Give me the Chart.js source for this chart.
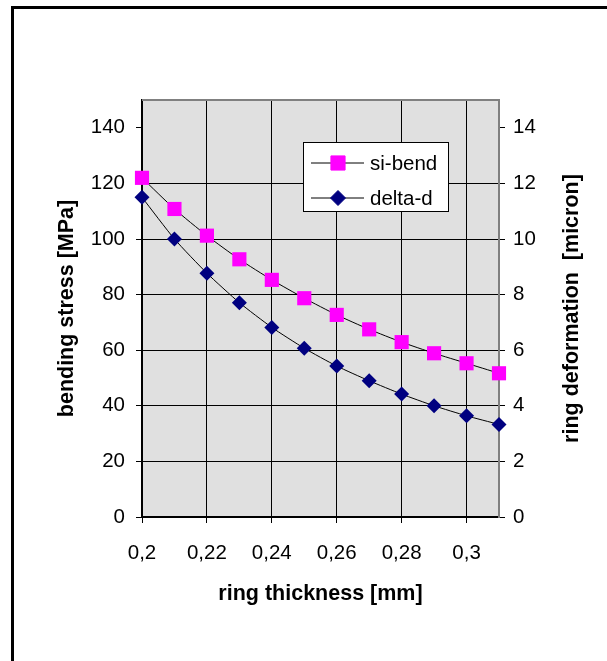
<!DOCTYPE html>
<html>
<head>
<meta charset="utf-8">
<script src="https://cdn.jsdelivr.net/npm/chart.js@4.4.0/dist/chart.umd.min.js"></script>
<style>
body { margin: 0; background: #fff; overflow: hidden; }
#frame { position: absolute; left: 11px; top: 6px; width: 700px; height: 700px; border: 3px solid #000; }
#wrap { position: absolute; left: 0; top: 0; width: 607px; height: 661px; }
</style>
</head>
<body>
<div id="frame"></div>
<div id="wrap"><canvas id="chart" width="607" height="661"></canvas></div>
<script>
// ring thickness [mm]
const thickness = [0.2, 0.21, 0.22, 0.23, 0.24, 0.25, 0.26, 0.27, 0.28, 0.29, 0.3, 0.31];
// bending stress [MPa]
const siBend = [122.0, 110.8, 101.2, 92.7, 85.3, 78.7, 72.7, 67.5, 62.9, 58.9, 55.3, 51.7];
// ring deformation [micron]
const deltaD = [11.5, 10.0, 8.77, 7.71, 6.82, 6.07, 5.43, 4.90, 4.42, 4.00, 3.64, 3.33];

const xTicks = [0.2, 0.22, 0.24, 0.26, 0.28, 0.3];
const yTicks = [0, 20, 40, 60, 80, 100, 120, 140];
const y2Ticks = [0, 2, 4, 6, 8, 10, 12, 14];

const rightTitle = "ring deformation  [micron]";
const FONT = "'Liberation Sans', Arial, sans-serif";

// grey plot area + grey top edge
const plotArea = {
    id: "plotArea",
    beforeDraw(chart) {
        const {ctx, chartArea: a} = chart;
        ctx.save();
        ctx.fillStyle = "#e0e0e0";
        ctx.fillRect(a.left, a.top, a.right - a.left, a.bottom - a.top);
        ctx.restore();
    },
    afterDraw(chart) {
        const {ctx, chartArea: a} = chart;
        ctx.save();
        ctx.strokeStyle = "#808080";
        ctx.lineWidth = 2;
        ctx.beginPath();
        ctx.moveTo(a.left, a.top);
        ctx.lineTo(a.right, a.top);
        ctx.stroke();
        // right axis title reads bottom-to-top in the original
        ctx.translate(572, (a.top + a.bottom) / 2);
        ctx.rotate(-Math.PI / 2);
        ctx.fillStyle = "#000";
        ctx.font = "bold 21.5px " + FONT;
        ctx.textAlign = "center";
        ctx.textBaseline = "middle";
        ctx.fillText(rightTitle, 0, 0);
        ctx.restore();
    }
};

// legend box inside the plot, like the original
const boxLegend = {
    id: "boxLegend",
    afterDraw(chart) {
        const ctx = chart.ctx;
        const x0 = 303, y0 = 142, w = 145, h = 69;
        ctx.save();
        ctx.fillStyle = "#fff";
        ctx.fillRect(x0, y0, w, h);
        ctx.strokeStyle = "#000";
        ctx.lineWidth = 1;
        ctx.strokeRect(x0 + 0.5, y0 + 0.5, w, h);
        chart.data.datasets.forEach((ds, i) => {
            const y = y0 + 21 + i * 35;
            ctx.strokeStyle = "#000";
            ctx.lineWidth = 1;
            ctx.beginPath();
            ctx.moveTo(x0 + 8, y);
            ctx.lineTo(x0 + 61, y);
            ctx.stroke();
            ctx.fillStyle = ds.pointBackgroundColor;
            ctx.strokeStyle = ds.pointBorderColor;
            Chart.helpers.drawPoint(ctx, {
                pointStyle: ds.pointStyle,
                radius: ds.pointRadius,
                rotation: 0,
                borderWidth: 1
            }, x0 + 35, y);
            ctx.fillStyle = "#000";
            ctx.font = "20.5px " + FONT;
            ctx.textBaseline = "middle";
            ctx.fillText(ds.label, x0 + 67, y + 1);
        });
        ctx.restore();
    }
};

new Chart(document.getElementById("chart"), {
    type: "line",
    data: {
        datasets: [{
            label: "si-bend",
            data: thickness.map((t, i) => ({x: t, y: siBend[i]})),
            yAxisID: "y",
            borderColor: "#000",
            borderWidth: 1,
            tension: 0.2,
            pointStyle: "rect",
            pointRadius: 10,
            pointBackgroundColor: "#ff00ff",
            pointBorderColor: "#ff00ff",
            pointBorderWidth: 0,
            clip: false
        }, {
            label: "delta-d",
            data: thickness.map((t, i) => ({x: t, y: deltaD[i]})),
            yAxisID: "y2",
            borderColor: "#000",
            borderWidth: 1,
            tension: 0.2,
            pointStyle: "rectRot",
            pointRadius: 7.5,
            pointBackgroundColor: "#000080",
            pointBorderColor: "#000080",
            pointBorderWidth: 0,
            clip: false
        }]
    },
    options: {
        responsive: false,
        animation: false,
        layout: {padding: {top: 100, left: 0, right: 0, bottom: 0}},
        plugins: {legend: {display: false}, tooltip: {enabled: false}},
        scales: {
            x: {
                type: "linear",
                min: 0.2,
                max: 0.31,
                afterBuildTicks: s => { s.ticks = xTicks.map(v => ({value: v})); },
                afterFit: s => { s.height = 144; },
                ticks: {
                    color: "#000",
                    font: {family: FONT, size: 20.5},
                    padding: 18,
                    maxRotation: 0,
                    callback: v => String(Number(v.toFixed(2))).replace(".", ",")
                },
                grid: {color: "#000", lineWidth: 1, tickLength: 6, tickColor: "#000"},
                border: {color: "#000", width: 2},
                title: {
                    display: true,
                    text: "ring thickness [mm]",
                    color: "#000",
                    font: {family: FONT, size: 21.5, weight: "bold"},
                    padding: {top: 0, bottom: 54}
                }
            },
            y: {
                position: "left",
                min: 0,
                max: 150,
                afterBuildTicks: s => { s.ticks = yTicks.map(v => ({value: v})); },
                afterFit: s => { s.width = 142; },
                ticks: {color: "#000", font: {family: FONT, size: 20.5}, padding: 11},
                grid: {
                    color: c => (c.tick && c.tick.value === 140) ? "rgba(0,0,0,0)" : "#000",
                    lineWidth: 1, tickLength: 6, tickColor: "#000"
                },
                border: {color: "#000", width: 2},
                title: {
                    display: true,
                    text: "bending stress [MPa]",
                    color: "#000",
                    font: {family: FONT, size: 21.5, weight: "bold"},
                    padding: {top: 54, bottom: 0}
                }
            },
            y2: {
                position: "right",
                min: 0,
                max: 15,
                afterBuildTicks: s => { s.ticks = y2Ticks.map(v => ({value: v})); },
                afterFit: s => { s.width = 108; },
                ticks: {color: "#000", font: {family: FONT, size: 20.5}, padding: 8},
                grid: {drawOnChartArea: false, tickLength: 6, tickColor: "#000"},
                border: {color: "#808080", width: 2},
                title: {display: false}
            }
        }
    },
    plugins: [plotArea, boxLegend]
});
</script>
</body>
</html>
